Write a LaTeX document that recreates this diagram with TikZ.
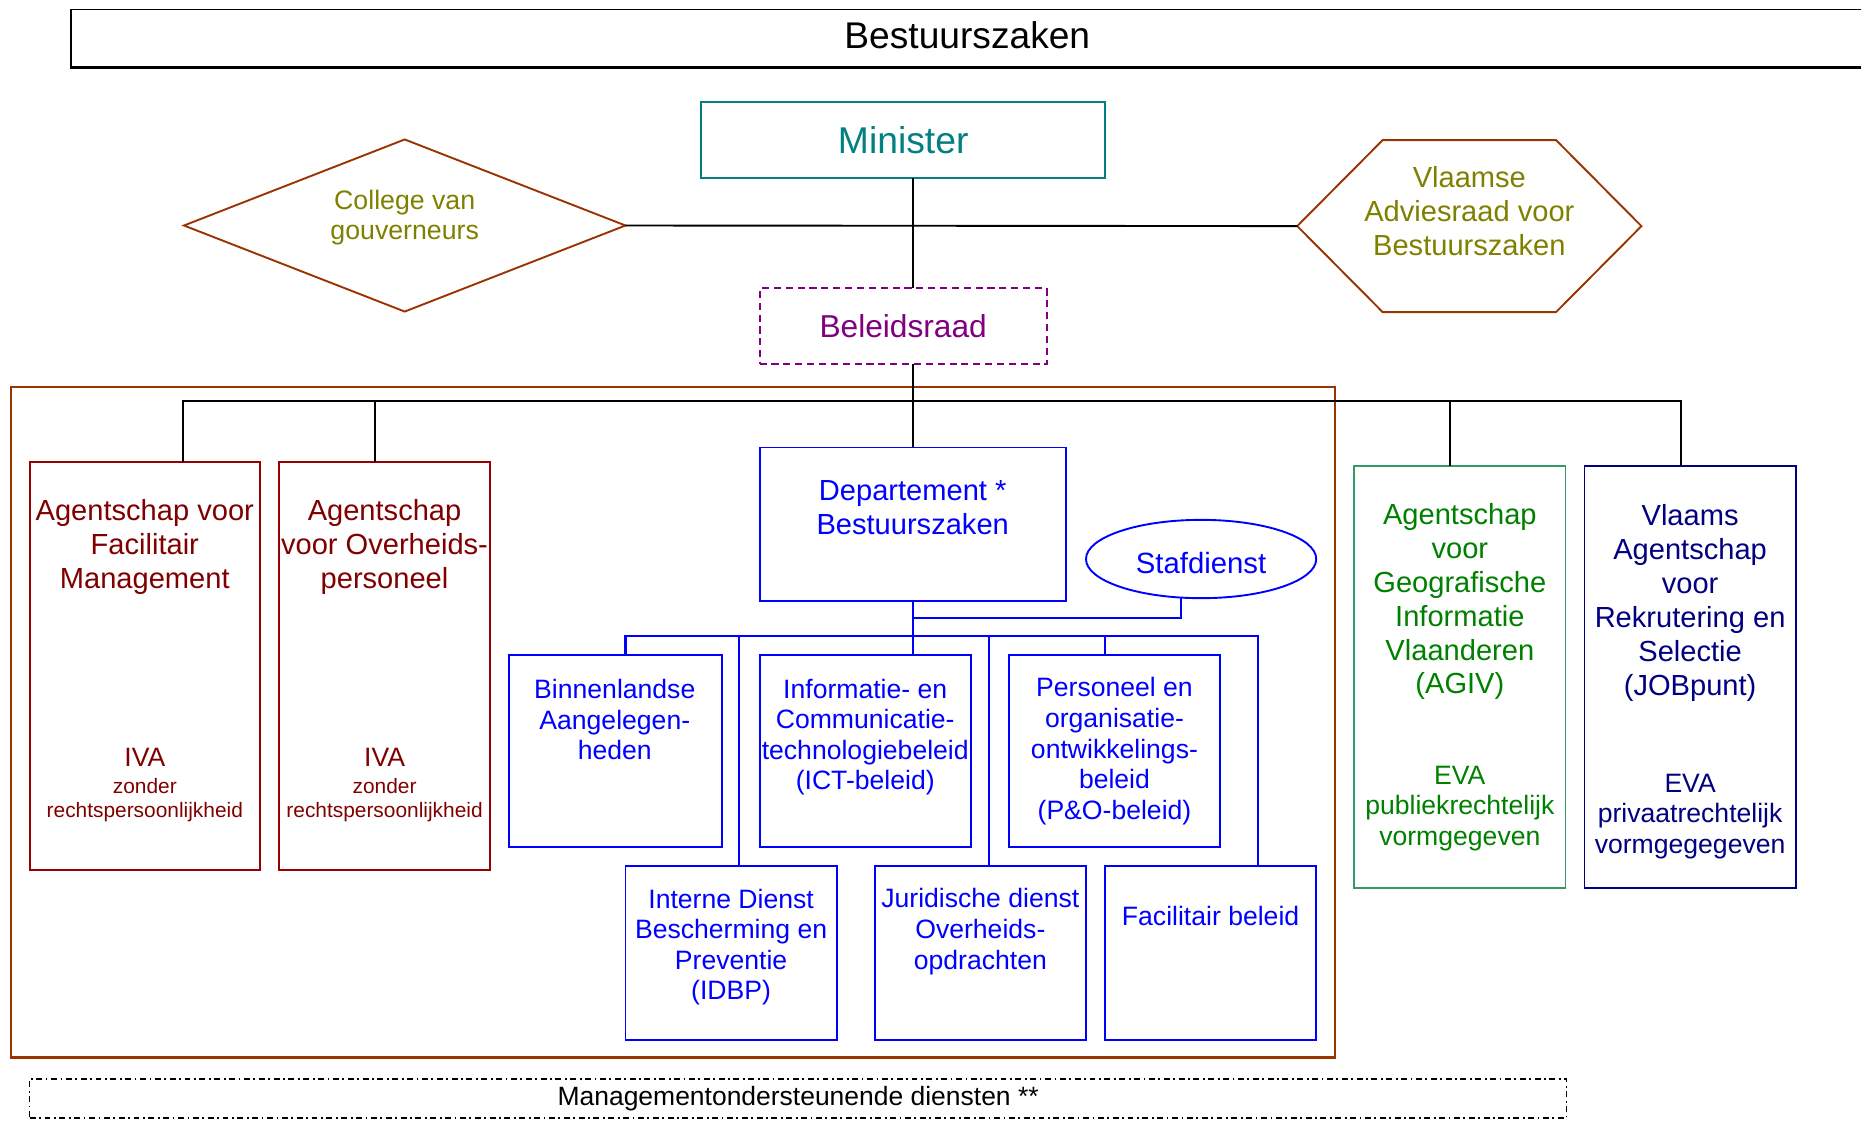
\documentclass[tikz,border=0pt]{standalone}
\usepackage{fontspec}
\setmainfont{Liberation Sans}
\usetikzlibrary{shapes.geometric,calc}
\definecolor{brn}{RGB}{153,51,0}
\definecolor{mar}{RGB}{153,0,0}
\definecolor{martx}{RGB}{128,0,0}
\definecolor{tealc}{RGB}{0,128,128}
\definecolor{oliv}{RGB}{128,128,0}
\definecolor{purp}{RGB}{128,0,128}
\definecolor{blu}{RGB}{0,0,255}
\definecolor{grn}{RGB}{0,128,0}
\definecolor{grnb}{RGB}{51,153,102}
\definecolor{nav}{RGB}{0,0,128}
\tikzset{
  box/.style={draw, rectangle, inner sep=0pt, outer sep=0pt, line width=1.6pt},
  txt/.style={align=center, inner sep=0pt},
  fbig/.style={font=\fontsize{24.5}{28.5}\selectfont},
  fmid/.style={font=\fontsize{22.4}{25.8}\selectfont},
  fsml/.style={font=\fontsize{17.6}{20}\selectfont},
  conn/.style={line width=1.6pt},
  bconn/.style={line width=1.8pt, blu},
}
\begin{document}
\begin{tikzpicture}[x=1pt,y=-1pt]
\useasboundingbox (0,0) rectangle (1568,945);
% banner
\draw[line width=1.4pt] (1590,8) -- (60,8) -- (60,57);
\draw[line width=2.2pt] (59.3,57) -- (1590,57);
\node[txt, font=\fontsize{31.3}{36}\selectfont] (title) at (815,30) {Bestuurszaken};
% top level
\node[box, draw=tealc, text=tealc, minimum width=340, minimum height=64,
      font=\fontsize{31.4}{36}\selectfont] (minister) at (761,118) {Minister};
\node[draw=brn, line width=1.6pt, diamond, aspect=2.57, inner sep=0pt, outer sep=0pt,
      minimum width=372, minimum height=145] (college) at (341,190) {};
\node[txt, text=oliv, font=\fontsize{22.5}{25}\selectfont] (collegetxt) at (341,183.5) {College van\\gouverneurs};
\node[minimum width=290, minimum height=145, inner sep=0pt, outer sep=0pt] (vlaamse) at (1238,190.5) {};
\draw[brn, line width=1.6pt] (vlaamse.west) -- ($(vlaamse.north west)+(72,0)$) -- ($(vlaamse.north east)+(-72,0)$)
  -- (vlaamse.east) -- ($(vlaamse.south east)+(-72,0)$) -- ($(vlaamse.south west)+(72,0)$) -- cycle;
\node[txt, fbig, text=oliv] (vlaamsetxt) at (1238,178) {Vlaamse\\Adviesraad voor\\Bestuurszaken};
\node[box, dashed, dash pattern=on 6pt off 4pt, draw=purp, text=purp, minimum width=242, minimum height=64,
      font=\fontsize{26.7}{30}\selectfont] (beleid) at (761,275) {Beleidsraad};
% big frame
\node[box, draw=brn, line width=1.8pt, minimum width=1116, minimum height=565] (frame) at (567,608.5) {};
% agentschappen IVA
\node[box, draw=mar, minimum width=194, minimum height=344] (fm) at (122,561) {};
\node[txt, fbig, text=martx] (fmtxt) at (122,461) {Agentschap voor\\Facilitair\\Management};
\node[txt, fmid, text=martx] (fmiva) at (122,638) {IVA};
\node[txt, fsml, text=martx] (fmiva2) at (122,674) {zonder\\rechtspersoonlijkheid};
\node[box, draw=mar, minimum width=178, minimum height=344] (op) at (324,561) {};
\node[txt, fbig, text=martx] (optxt) at (324,461) {Agentschap\\voor Overheids-\\personeel};
\node[txt, fmid, text=martx] (opiva) at (324,638) {IVA};
\node[txt, fsml, text=martx] (opiva2) at (324,674) {zonder\\rechtspersoonlijkheid};
% departement
\node[box, draw=blu, minimum width=258, minimum height=129] (dept) at (769,441.5) {};
\node[txt, fbig, text=blu] (depttxt) at (769,428) {Departement *\\Bestuurszaken};
\node[draw=blu, line width=1.6pt, ellipse, inner sep=0pt, outer sep=0pt, minimum width=194, minimum height=66] (staf) at (1012,471) {};
\node[txt, text=blu, font=\fontsize{24.7}{28}\selectfont] (staftxt) at (1012,474) {Stafdienst};
% afdelingen
\node[box, draw=blu, minimum width=179, minimum height=162] (binn) at (518.5,633) {};
\node[txt, fmid, text=blu] (binntxt) at (518,606.5) {Binnenlandse\\Aangelegen-\\heden};
\node[box, draw=blu, minimum width=178, minimum height=162] (inf) at (729,633) {};
\node[txt, fmid, text=blu] (inftxt) at (729,621) {Informatie- en\\Communicatie-\\technologiebeleid\\(ICT-beleid)};
\node[box, draw=blu, minimum width=178, minimum height=162] (po) at (939,633) {};
\node[txt, fmid, text=blu] (potxt) at (939,633) {Personeel en\\organisatie-\\ontwikkelings-\\beleid\\(P\&O-beleid)};
\node[box, draw=blu, minimum width=178, minimum height=146] (idbp) at (616,803) {};
\node[txt, fmid, text=blu] (idbptxt) at (616,798) {Interne Dienst\\Bescherming en\\Preventie\\(IDBP)};
\node[box, draw=blu, minimum width=178, minimum height=146] (jur) at (826,803) {};
\node[txt, fmid, text=blu] (jurtxt) at (826,785) {Juridische dienst\\Overheids-\\opdrachten};
\node[box, draw=blu, minimum width=178, minimum height=146] (fac) at (1020,803) {};
\node[txt, fmid, text=blu] (factxt) at (1020,772) {Facilitair beleid};
% EVA
\node[box, draw=grnb, minimum width=178, minimum height=355] (agiv) at (1230,570.5) {};
\node[txt, fbig, text=grn] (agivtxt) at (1230,507) {Agentschap\\voor\\Geografische\\Informatie\\Vlaanderen\\(AGIV)};
\node[txt, fmid, text=grn] (agiveva) at (1230,681) {EVA\\publiekrechtelijk\\vormgegeven};
\node[box, draw=nav, minimum width=178, minimum height=355] (job) at (1424,570.5) {};
\node[txt, fbig, text=nav] (jobtxt) at (1424,508) {Vlaams\\Agentschap\\voor\\Rekrutering en\\Selectie\\(JOBpunt)};
\node[txt, fmid, text=nav] (jobeva) at (1424,688) {EVA\\privaatrechtelijk\\vormgegegeven};
% management ondersteunend
\node[draw, line width=1.2pt, dash pattern=on 5pt off 3pt on 1.5pt off 3pt, rectangle, inner sep=0pt,
      minimum width=1295, minimum height=33, font=\fontsize{22.3}{26}\selectfont] (mgmt) at (672.5,925.5) {Managementondersteunende diensten **};
% black connectors
\draw[conn] (college.east) -- (vlaamse.west);
\draw[conn] (minister.south -| dept.north) -- (beleid.north -| dept.north);
\draw[conn] (beleid.south -| dept.north) -- (dept.north);
\coordinate (b1) at (154,338);
\coordinate (b2) at (316,338);
\coordinate (b4) at (1222,338);
\coordinate (b5) at (1416,338);
\draw[conn] (b1 |- fm.north) -- (b1) -- (b5) -- (b5 |- job.north);
\draw[conn] (b2) -- (b2 |- op.north);
\draw[conn] (b4) -- (b4 |- agiv.north);
% blue connectors
\coordinate (s1) at (995,521);
\draw[bconn] (s1 |- staf.south) -- (s1) -- (s1 -| dept.south);
\draw[bconn] (dept.south) -- (dept.south |- inf.north);
\coordinate (c1) at (527,536);
\coordinate (c2) at (623,536);
\coordinate (c4) at (833,536);
\coordinate (c5) at (931,536);
\coordinate (c6) at (1060,536);
\draw[bconn] (c1 |- binn.north) -- (c1) -- (c6) -- (c6 |- fac.north);
\draw[bconn] (c2) -- (c2 |- idbp.north);
\draw[bconn] (c4) -- (c4 |- jur.north);
\draw[bconn] (c5) -- (c5 |- po.north);
\end{tikzpicture}
\end{document}
